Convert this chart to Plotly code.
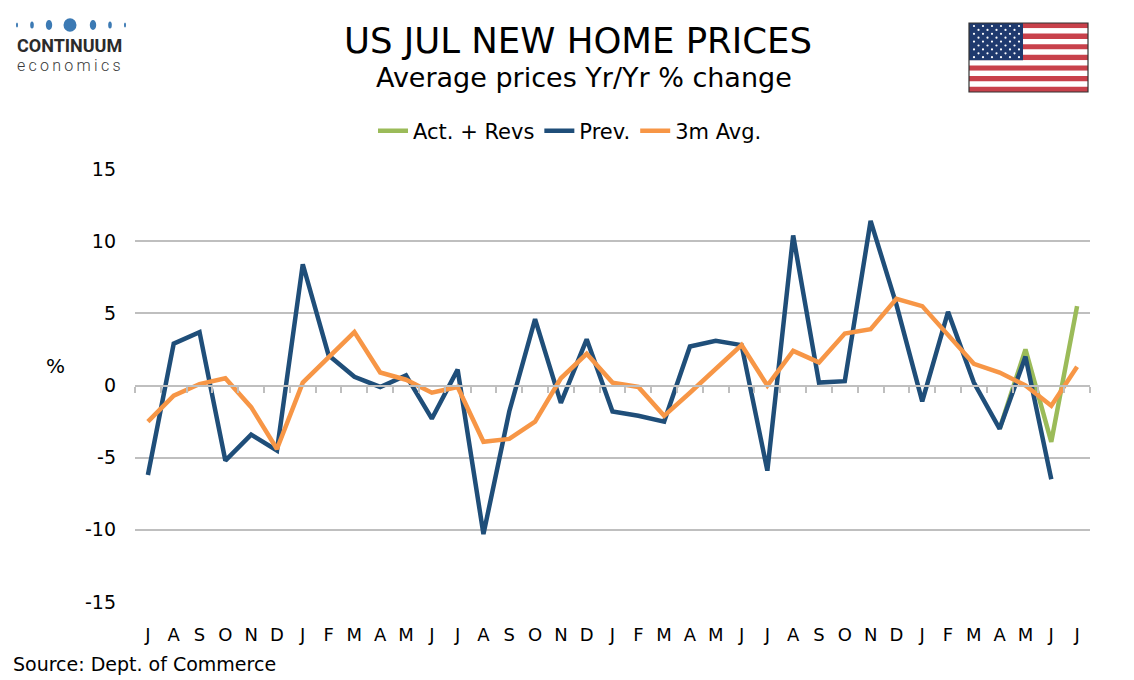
import plotly.graph_objects as go

months = ["J","A","S","O","N","D","J","F","M","A","M","J",
          "J","A","S","O","N","D","J","F","M","A","M","J",
          "J","A","S","O","N","D","J","F","M","A","M","J","J"]

prev = [-6.2, 2.9, 3.7, -5.2, -3.4, -4.5, 8.4, 2.1, 0.6, -0.1, 0.7, -2.3,
        1.1, -10.3, -1.8, 4.6, -1.2, 3.2, -1.8, -2.1, -2.5, 2.7, 3.1, 2.8,
        -5.9, 10.4, 0.2, 0.3, 11.4, 5.6, -1.1, 5.1, 0.2, -3.0, 2.0, -6.5, None]

act_revs = [None] * 33 + [-3.0, 2.5, -3.9, 5.5]

avg3m = [-2.5, -0.7, 0.1, 0.5, -1.5, -4.4, 0.2, 1.9, 3.7, 0.9, 0.4, -0.5,
         -0.1, -3.9, -3.7, -2.5, 0.5, 2.2, 0.2, -0.1, -2.1, -0.5, 1.1, 2.8,
         0.0, 2.4, 1.6, 3.6, 3.9, 6.0, 5.5, 3.5, 1.5, 0.9, 0.0, -1.4, 1.3]

yticks = [-15, -10, -5, 0, 5, 10, 15]
ytick_text = ["-15", "-10", "-5", "0", "5", "10", "15"]

W, H = 1134, 680
L, R, T, B = 135, 1090, 169, 602
FONT = "DejaVu Sans"

def px(x):
    return (x - L) / (R - L)

def py(y):
    return (B - y) / (B - T)

idx = list(range(len(months)))

fig = go.Figure()
fig.add_trace(go.Scatter(x=idx, y=act_revs, name="Act. + Revs", mode="lines",
                         line=dict(color="#9bbb59", width=4.5)))
fig.add_trace(go.Scatter(x=idx, y=prev, name="Prev.", mode="lines",
                         line=dict(color="#1f4e79", width=4.5)))
fig.add_trace(go.Scatter(x=idx, y=avg3m, name="3m Avg.", mode="lines",
                         line=dict(color="#f79646", width=4.5)))
# invisible trace to carry the zero-line axis
fig.add_trace(go.Scatter(x=[-0.5, len(months) - 0.5], y=[0, 0], xaxis="x2",
                         mode="lines", line=dict(width=0), showlegend=False,
                         hoverinfo="skip"))

shapes = []
# logo dots
dots = [(17, 1.0, 2.6), (32, 1.8, 3.6), (49, 3.2, 5), (70, 6.5, 6.8),
        (93, 3.2, 5), (110, 1.8, 3.6), (125, 1.0, 2.6)]
for cx, rx, ry in dots:
    shapes.append(dict(type="circle", xref="paper", yref="paper",
                       x0=px(cx - rx), x1=px(cx + rx), y0=py(25 + ry), y1=py(25 - ry),
                       fillcolor="#3c7ab4", line=dict(width=0), layer="above"))

# flag
fx0, fx1, fy0, fy1 = 969, 1088, 23, 92
sh = (fy1 - fy0) / 13
for i in range(13):
    shapes.append(dict(type="rect", xref="paper", yref="paper",
                       x0=px(fx0), x1=px(fx1), y0=py(fy0 + (i + 1) * sh), y1=py(fy0 + i * sh),
                       fillcolor="#c8414b" if i % 2 == 0 else "#ffffff",
                       line=dict(width=0), layer="above"))
cx1, cy1 = 1023, fy0 + 7 * sh
shapes.append(dict(type="rect", xref="paper", yref="paper",
                   x0=px(fx0), x1=px(cx1), y0=py(cy1), y1=py(fy0),
                   fillcolor="#1f3a6e", line=dict(width=0), layer="above"))
for r in range(9):
    n = 6 if r % 2 == 0 else 5
    for c in range(n):
        sx = fx0 + 5 + c * 9 + (0 if r % 2 == 0 else 4.5)
        sy = fy0 + 3 + r * 3.9
        shapes.append(dict(type="circle", xref="paper", yref="paper",
                           x0=px(sx - 1.1), x1=px(sx + 1.1), y0=py(sy + 1.1), y1=py(sy - 1.1),
                           fillcolor="#ffffff", line=dict(width=0), layer="above"))
shapes.append(dict(type="rect", xref="paper", yref="paper",
                   x0=px(fx0), x1=px(fx1), y0=py(fy1), y1=py(fy0),
                   fillcolor="rgba(0,0,0,0)", line=dict(color="#333333", width=1.2),
                   layer="above"))

annotations = [
    dict(text="US JUL NEW HOME PRICES", x=px(578), y=py(40), xref="paper", yref="paper",
         showarrow=False, font=dict(family=FONT, size=35.5, color="#000000"),
         xanchor="center", yanchor="middle"),
    dict(text="Average prices Yr/Yr % change", x=px(584), y=py(78), xref="paper", yref="paper",
         showarrow=False, font=dict(family=FONT, size=27, color="#000000"),
         xanchor="center", yanchor="middle"),
    dict(text="%", x=px(55), y=py(366), xref="paper", yref="paper",
         showarrow=False, font=dict(family=FONT, size=20, color="#000000"),
         xanchor="center", yanchor="middle"),
    dict(text="Source: Dept. of Commerce", x=px(11), y=py(664), xref="paper", yref="paper",
         showarrow=False, font=dict(family=FONT, size=19, color="#000000"),
         xanchor="left", yanchor="middle"),
    dict(text="<b>CONTINUUM</b>", x=px(15), y=py(46), xref="paper", yref="paper",
         showarrow=False, font=dict(family="Roboto", size=18, color="#2b2b2b"),
         xanchor="left", yanchor="middle"),
    dict(text="e\u2009c\u2009o\u2009n\u2009o\u2009m\u2009i\u2009c\u2009s",
         x=px(15), y=py(66), xref="paper", yref="paper",
         showarrow=False, font=dict(family="Roboto", size=16, color="#3a3a3a", weight=300),
         xanchor="left", yanchor="middle"),
]

fig.update_layout(
    width=W, height=H, autosize=False,
    margin=dict(l=L, r=W - R, t=T, b=H - B),
    paper_bgcolor="#ffffff", plot_bgcolor="#ffffff",
    font=dict(family=FONT, size=18, color="#000000"),
    showlegend=True,
    legend=dict(orientation="h", x=px(570), y=py(131), xanchor="center", yanchor="middle",
                xref="paper", yref="paper",
                font=dict(family=FONT, size=21, color="#000000"),
                itemwidth=30, tracegroupgap=0, traceorder="normal",
                bgcolor="rgba(0,0,0,0)"),
    xaxis=dict(range=[-0.5, len(months) - 0.5], tickmode="array", tickvals=idx,
               ticktext=months, showgrid=False, zeroline=False, showline=False,
               ticks="", ticklabelstandoff=20,
               tickfont=dict(family=FONT, size=18, color="#000000")),
    xaxis2=dict(range=[-0.5, len(months) - 0.5], overlaying="x", anchor="free",
                position=0.5, side="bottom", showgrid=False, zeroline=False,
                showline=True, linecolor="#bfbfbf", linewidth=2,
                tickmode="array", tickvals=[i - 0.5 for i in range(len(months) + 1)],
                ticks="outside", ticklen=6, tickwidth=2, tickcolor="#bfbfbf",
                showticklabels=False),
    yaxis=dict(range=[-15, 15], tickmode="array", tickvals=yticks, ticktext=ytick_text,
               showgrid=True, gridcolor="#bfbfbf", gridwidth=2, zeroline=False,
               showline=False, ticks="", ticklabelstandoff=18,
               tickfont=dict(family=FONT, size=19, color="#000000")),
    shapes=shapes,
    annotations=annotations,
)

fig.write_html("out.html", config={"displayModeBar": False},
               post_script="document.body.style.margin='0';document.body.style.overflow='hidden';")
